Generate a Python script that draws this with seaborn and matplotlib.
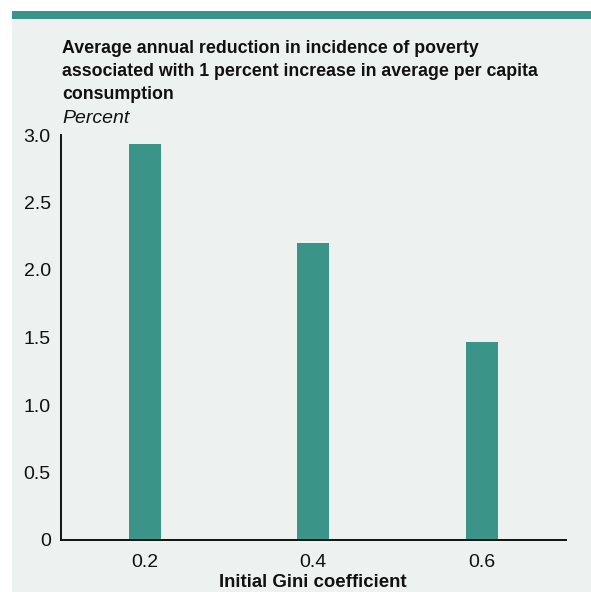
import matplotlib
matplotlib.use("Agg")
import matplotlib.pyplot as plt
import seaborn as sns
import pandas as pd
from matplotlib.patches import Rectangle

categories = ["0.2", "0.4", "0.6"]
values = [2.93, 2.20, 1.47]
yticks = [0, 0.5, 1.0, 1.5, 2.0, 2.5, 3.0]
ytick_labels = ["0", "0.5", "1.0", "1.5", "2.0", "2.5", "3.0"]

TEAL = "#3a9488"
BG = "#edf1f0"

sns.set_theme(style="white")
plt.rcParams["font.family"] = ["Liberation Sans", "DejaVu Sans"]

W, H = 591, 592
fig = plt.figure(figsize=(W / 100, H / 100), dpi=100)
fig.patches.append(Rectangle((12 / W, 0), 1 - 12 / W, 1 - 11 / H, transform=fig.transFigure,
                             facecolor=BG, edgecolor="none", zorder=-10))
fig.patches.append(Rectangle((12 / W, 1 - 19 / H), 1 - 12 / W, 8 / H, transform=fig.transFigure,
                             facecolor=TEAL, edgecolor="none", zorder=-9))

ax = fig.add_axes([60.5 / W, 1 - 540 / H, (566 - 60.5) / W, (540 - 135) / H])
ax.set_facecolor("none")

df = pd.DataFrame({"gini": categories, "value": values})
sns.barplot(data=df, x="gini", y="value", color=TEAL, width=0.19, saturation=1,
            edgecolor="none", linewidth=0, ax=ax)

ax.set_xlim(-0.5, 2.5)
ax.set_ylim(0, 3.0)
ax.set_yticks(yticks)
ax.set_yticklabels(ytick_labels)
ax.tick_params(axis="both", length=0, labelsize=14, colors="#111111")
ax.tick_params(axis="y", pad=7)
ax.tick_params(axis="x", pad=10)
for s in ["top", "right"]:
    ax.spines[s].set_visible(False)
for s in ["left", "bottom"]:
    ax.spines[s].set_color("#111111")
    ax.spines[s].set_linewidth(1.4)
ax.set_ylabel("")
ax.set_xlabel("Initial Gini coefficient", fontsize=13.4, fontweight="bold", labelpad=2, color="#111111")

fig.text(62 / W, 1 - 71.5 / H,
         "Average annual reduction in incidence of poverty\nassociated with 1 percent increase in average per capita\nconsumption",
         fontsize=12.8, fontweight="bold", va="center", ha="left", linespacing=1.47, color="#111111")
fig.text(62 / W, 1 - 118.5 / H, "Percent", fontsize=14, style="italic", va="center", ha="left", color="#111111")

fig.savefig("out.png", dpi=100)
